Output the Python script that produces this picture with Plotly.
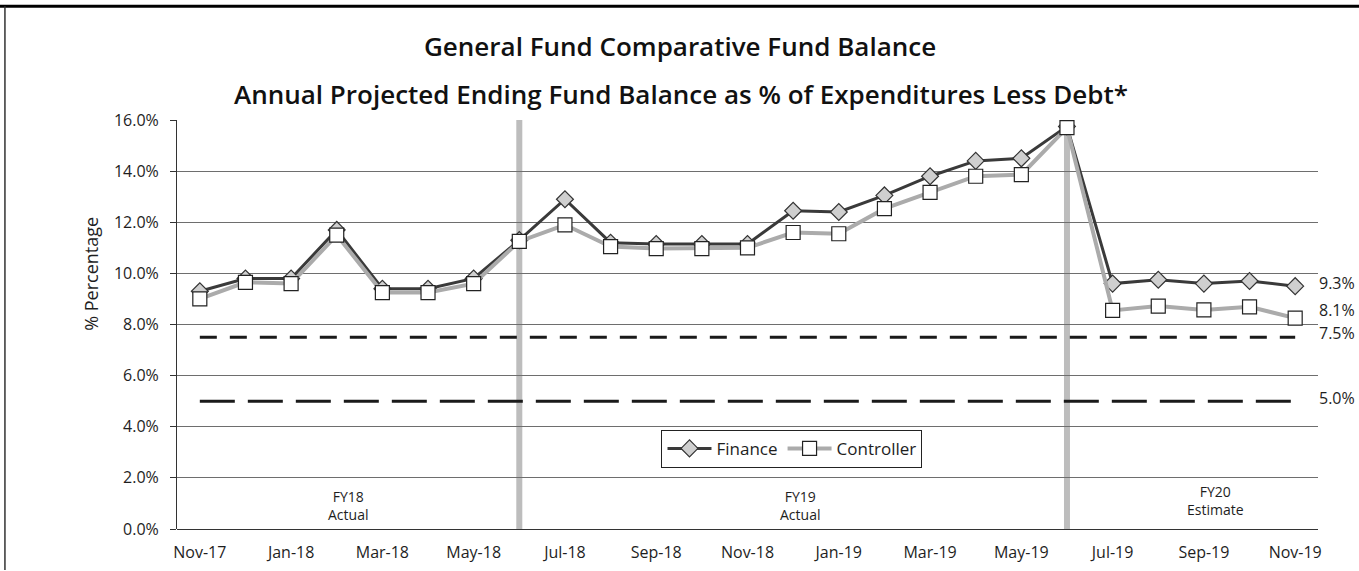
import plotly.graph_objects as go

months = ["Nov-17", "Dec-17", "Jan-18", "Feb-18", "Mar-18", "Apr-18", "May-18", "Jun-18",
          "Jul-18", "Aug-18", "Sep-18", "Oct-18", "Nov-18", "Dec-18", "Jan-19", "Feb-19",
          "Mar-19", "Apr-19", "May-19", "Jun-19", "Jul-19", "Aug-19", "Sep-19", "Oct-19", "Nov-19"]
finance = [9.3, 9.8, 9.8, 11.7, 9.4, 9.4, 9.8, 11.3,
           12.9, 11.2, 11.15, 11.15, 11.15, 12.45, 12.4, 13.05,
           13.8, 14.4, 14.5, 15.75, 9.6, 9.75, 9.6, 9.7, 9.5]
controller = [9.0, 9.65, 9.6, 11.5, 9.25, 9.25, 9.6, 11.25,
              11.9, 11.05, 10.97, 10.97, 11.0, 11.6, 11.55, 12.53,
              13.17, 13.8, 13.86, 15.7, 8.55, 8.72, 8.57, 8.69, 8.25]
thresholds = [7.5, 5.0]
threshold_labels = ["7.5%", "5.0%"]
end_labels = ["9.3%", "8.1%"]
fy_boundaries = ["Jun-18", "Jun-19"]
fy_texts = ["FY18<br>Actual", "FY19<br>Actual", "FY20<br>Estimate"]
tick_labels = months[::2]

FONT = "Open Sans"
TXT = "#1e1e1e"
idx = {m: i for i, m in enumerate(months)}

fig = go.Figure()

fig.add_trace(go.Scatter(
    x=months, y=finance, name="Finance", mode="lines+markers",
    line=dict(color="#3a3a3a", width=3),
    marker=dict(symbol="diamond", size=13, color="#cfcfcf", line=dict(color="#333", width=1.2)),
))
fig.add_trace(go.Scatter(
    x=months, y=controller, name="Controller", mode="lines+markers",
    line=dict(color="#ababab", width=4),
    marker=dict(symbol="square", size=14, color="white", line=dict(color="#222", width=1.2)),
))

shapes = []
for b in fy_boundaries:
    shapes.append(dict(type="line", xref="x", yref="paper", x0=idx[b], x1=idx[b], y0=0, y1=1,
                       line=dict(color="#bdbdbd", width=6), layer="between"))
dash_styles = ["17px,13px", "35px,13px"]
for t, d in zip(thresholds, dash_styles):
    shapes.append(dict(type="line", xref="x", yref="y", x0=0, x1=len(months) - 1, y0=t, y1=t,
                       line=dict(color="#1a1a1a", width=3, dash=d), layer="between"))
# outer frame of the page
shapes.append(dict(type="line", xref="paper", yref="paper", x0=-0.16, x1=1.04, y0=1.278, y1=1.278,
                   line=dict(color="black", width=3)))
shapes.append(dict(type="line", xref="paper", yref="paper", x0=-0.1508, x1=-0.1508, y0=-0.1, y1=1.278,
                   line=dict(color="#333", width=1.5)))

annotations = [
    dict(text="General Fund Comparative Fund Balance", xref="paper", yref="paper", x=0.441, y=1.18,
         showarrow=False, font=dict(family=FONT, size=26, color="#111", weight=600),
         xanchor="center", yanchor="middle"),
    dict(text="Annual Projected Ending Fund Balance as % of Expenditures Less Debt*", xref="paper", yref="paper",
         x=0.442, y=1.063, showarrow=False, font=dict(family=FONT, size=26, color="#111", weight=600),
         xanchor="center", yanchor="middle"),
    dict(text="% Percentage", xref="paper", yref="y", x=-0.075, y=10.0, textangle=-90, showarrow=False,
         font=dict(family=FONT, size=18, color=TXT), xanchor="center", yanchor="middle"),
]
fy_pos = [(3.25, 0.9), (13.15, 0.9), (22.25, 1.1)]
for txt, (px, py) in zip(fy_texts, fy_pos):
    annotations.append(dict(text=txt, x=px, y=py, xref="x", yref="y", showarrow=False,
                            font=dict(family=FONT, size=14, color=TXT), align="center"))
right_vals = [finance[-1] + 0.13, controller[-1] + 0.3, thresholds[0] + 0.17, thresholds[1] + 0.12]
right_txt = end_labels + threshold_labels
for v, txt in zip(right_vals, right_txt):
    annotations.append(dict(text=txt, x=1.0, y=v, xref="paper", yref="y", showarrow=False,
                            xanchor="left", xshift=-1, font=dict(family=FONT, size=16, color=TXT)))

fig.update_layout(
    width=1359, height=571,
    margin=dict(l=177, r=41, t=120, b=42, autoexpand=False),
    paper_bgcolor="white", plot_bgcolor="white",
    font=dict(family=FONT, size=16, color=TXT),
    showlegend=True,
    legend=dict(orientation="h", x=0.539, y=0.196, xanchor="center", yanchor="middle",
                bordercolor="#222", borderwidth=1, bgcolor="white",
                font=dict(family=FONT, size=17, color=TXT), traceorder="normal",
                itemwidth=44),
    xaxis=dict(type="category", categoryorder="array", categoryarray=months,
               tickmode="array", tickvals=tick_labels, ticktext=tick_labels,
               range=[-0.5, len(months) - 0.5], showgrid=False, showline=False,
               tickfont=dict(family=FONT, size=16, color=TXT), ticks="outside", ticklen=9,
               tickcolor="rgba(0,0,0,0)", zeroline=False, automargin=False),
    yaxis=dict(range=[0, 16], dtick=2, tickformat=".1f", ticksuffix="%", showgrid=True,
               gridcolor="#6e6e6e", gridwidth=1, showline=True, linecolor="#333", linewidth=1,
               ticks="outside", ticklen=6, tickcolor="#333", zeroline=True, zerolinecolor="#333",
               zerolinewidth=1, tickfont=dict(family=FONT, size=16, color=TXT),
               ticklabelstandoff=8, automargin=False),
    shapes=shapes, annotations=annotations,
)

fig.write_html("out.html", config={"displayModeBar": False},
               post_script="document.body.style.margin='0';document.body.style.overflow='hidden';")
